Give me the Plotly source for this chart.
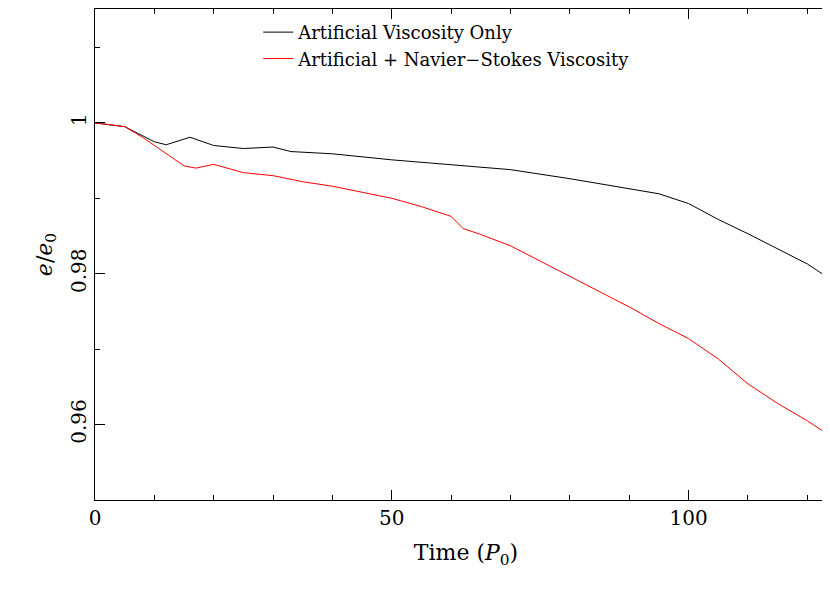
import plotly.graph_objs as go

t_art = [0, 5, 10, 12, 16, 20, 25, 30, 33, 40, 50, 60, 70, 80, 90, 95, 100, 105, 110, 115, 120, 125]
e_art = [1.0, 0.9995, 0.9975, 0.9971, 0.9981, 0.9970, 0.9966, 0.9968, 0.9962, 0.9959, 0.9951,
         0.9944, 0.9938, 0.9926, 0.9913, 0.9906, 0.9893, 0.9872, 0.9853, 0.9833, 0.9813, 0.9787]

t_ns = [0, 5, 8, 12, 15, 17, 20, 25, 30, 35, 40, 45, 50, 55, 60, 62, 65, 70, 75, 80, 85,
        90, 95, 100, 105, 110, 115, 120, 125]
e_ns = [1.0, 0.9995, 0.9981, 0.9959, 0.9943, 0.9940, 0.9945, 0.9934, 0.9930, 0.9922, 0.9916,
        0.9908, 0.9900, 0.9889, 0.9876, 0.9860, 0.9852, 0.9837, 0.9817, 0.9796, 0.9777,
        0.9756, 0.9734, 0.9714, 0.9687, 0.9654, 0.9628, 0.9605, 0.9579]

font = "DejaVu Serif"

fig = go.Figure()
fig.add_trace(go.Scatter(x=t_art, y=e_art, mode="lines", name="Artificial Viscosity Only",
                         line=dict(color="black", width=1)))
fig.add_trace(go.Scatter(x=t_ns, y=e_ns, mode="lines", name="Artificial + Navier\u2212Stokes Viscosity",
                         line=dict(color="red", width=1)))

axis = dict(showgrid=False, zeroline=False, showline=True, linecolor="black", linewidth=1,
            mirror="ticks", ticks="inside", ticklen=10, tickcolor="black", automargin=False,
            tickfont=dict(family=font, size=20, color="black"))
fig.update_xaxes(range=[0, 125], dtick=50, minor=dict(dtick=10, ticks="inside", ticklen=5, tickcolor="black"),
                 title=dict(text="Time (<i>P</i><sub>0</sub>)", font=dict(family=font, size=22, color="black")),
                 **axis)
fig.update_yaxes(range=[0.95, 1.0151], tickvals=[0.96, 0.98, 1.0], ticktext=["0.96", "0.98", "1"],
                 tickangle=-90,
                 minor=dict(tickvals=[0.95, 0.97, 0.99, 1.01], ticks="inside", ticklen=5, tickcolor="black"),
                 title=dict(text="<i>e</i>/<i>e</i><sub>0</sub>", font=dict(family=font, size=22, color="black"),
                            standoff=8),
                 **axis)
fig.update_layout(width=830, height=597, plot_bgcolor="white", paper_bgcolor="white",
                  margin=dict(l=87, r=1, t=1, b=105),
                  legend=dict(x=0.22, y=0.99, xanchor="left", yanchor="top", bgcolor="rgba(0,0,0,0)",
                              font=dict(family=font, size=18, color="black")))
fig.write_html("out.html")
